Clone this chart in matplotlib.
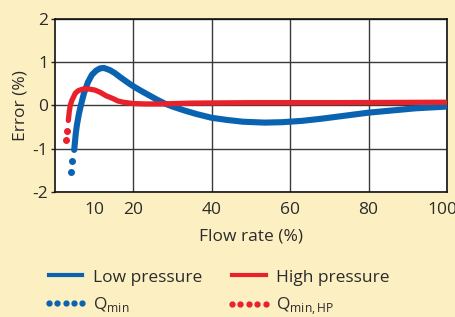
import numpy as np
import matplotlib
matplotlib.use("Agg")
import matplotlib.pyplot as plt
import matplotlib.transforms as mtransforms
from matplotlib.lines import Line2D

# --- data ---
low_flow = [4.9, 5.3, 5.6, 6.1, 6.6, 7.4, 8.4, 9.4, 10.5, 11.5, 12.5, 14.0, 15.3,
            16.6, 18.0, 19.1, 20.3, 22.0, 24.2, 26.0, 28.0, 30.0, 33.0, 36.0,
            40.0, 44.0, 48.0, 53.5, 58.0, 63.0, 68.0, 74.0, 80.0, 86.0, 92.0, 100.0]
low_err = [-1.03, -0.65, -0.45, -0.20, 0.00, 0.28, 0.53, 0.70, 0.80, 0.85, 0.86,
           0.81, 0.74, 0.65, 0.56, 0.49, 0.42, 0.33, 0.22, 0.13, 0.04, -0.03,
           -0.12, -0.20, -0.29, -0.34, -0.38, -0.40, -0.39, -0.36, -0.31, -0.24,
           -0.17, -0.12, -0.07, -0.03]

high_flow = [3.4, 3.65, 3.9, 4.3, 5.2, 6.0, 7.0, 8.0, 9.0, 10.2, 11.5, 13.0, 14.9,
             16.0, 17.4, 19.9, 23.0, 27.0, 35.0, 50.0, 70.0, 100.0]
high_err = [-0.35, -0.14, 0.00, 0.11, 0.28, 0.34, 0.37, 0.38, 0.37, 0.35, 0.30,
            0.22, 0.15, 0.10, 0.07, 0.04, 0.03, 0.03, 0.05, 0.06, 0.06, 0.07]

qmin_flow = [4.4, 4.1]
qmin_err = [-1.29, -1.53]
qmin_hp_flow = [3.1, 2.8]
qmin_hp_err = [-0.60, -0.80]

x_ticks = [10, 20, 40, 60, 80, 100]
y_ticks = [-2, -1, 0, 1, 2]

# --- style ---
BG = "#FCF0C3"
BLUE = "#0A63B1"
RED = "#E8212B"
TXT = "#2b2b2b"
FS = 12.5

plt.rcParams["font.family"] = ["Open Sans", "DejaVu Sans"]
plt.rcParams["mathtext.fontset"] = "custom"
plt.rcParams["mathtext.rm"] = "Open Sans"
plt.rcParams["axes.unicode_minus"] = False

fig = plt.figure(figsize=(4.56, 3.17), dpi=100, facecolor=BG)
ax = fig.add_axes([0.1206, 0.3943, 0.8597, 0.5473])
ax.set_facecolor("white")

ax.plot(low_flow, low_err, color=BLUE, lw=4.4, solid_capstyle="round",
        solid_joinstyle="round", zorder=3)
ax.plot(high_flow, high_err, color=RED, lw=3.8, solid_capstyle="round",
        solid_joinstyle="round", zorder=4)
ax.plot(qmin_flow, qmin_err, ls="none", marker="o", ms=4, color=BLUE, zorder=3)
ax.plot(qmin_hp_flow, qmin_hp_err, ls="none", marker="o", ms=4, color=RED, zorder=3)

ax.set_xlim(0, 100)
ax.set_ylim(-2, 2)
ax.set_xticks(x_ticks)
ax.set_yticks(y_ticks)
ax.set_yticklabels([str(v) for v in y_ticks])
ax.grid(True, color="#3a3a3a", lw=1.0)
ax.xaxis.get_gridlines()[0].set_visible(False)
ax.set_axisbelow(True)
ax.tick_params(axis="x", length=0, pad=7, labelsize=FS, labelcolor=TXT)
ax.tick_params(axis="y", length=3, width=1, color="#222", pad=2,
               labelsize=FS, labelcolor=TXT)
for s in ax.spines.values():
    s.set_color("#111")
    s.set_linewidth(1.2)

# nudge the "100" label left so it stays on the canvas
last = ax.get_xticklabels()[-1]
last.set_transform(last.get_transform() +
                   mtransforms.ScaledTranslation(-5 / 100, 0, fig.dpi_scale_trans))

ax.set_xlabel("Flow rate (%)", fontsize=FS, color=TXT, labelpad=8)
ax.set_ylabel("Error (%)", fontsize=FS, color=TXT, labelpad=3)

handles = [
    Line2D([], [], color=BLUE, lw=3),
    Line2D([], [], ls="none", marker="o", ms=3.5, color=BLUE),
    Line2D([], [], color=RED, lw=3),
    Line2D([], [], ls="none", marker="o", ms=3.5, color=RED),
]
labels = ["Low pressure", r"Q$_\mathregular{min}$", "High pressure",
          r"Q$_\mathregular{min,HP}$"]
leg = fig.legend(handles, labels, ncol=2, loc="upper left",
                 bbox_to_anchor=(0.08, 0.172), frameon=False, fontsize=FS,
                 numpoints=5, handlelength=2.55, handletextpad=0.3,
                 columnspacing=1.4, labelspacing=0.55, borderaxespad=0)
for t in leg.get_texts():
    t.set_color(TXT)

fig.savefig("out.png", dpi=100, facecolor=BG)
